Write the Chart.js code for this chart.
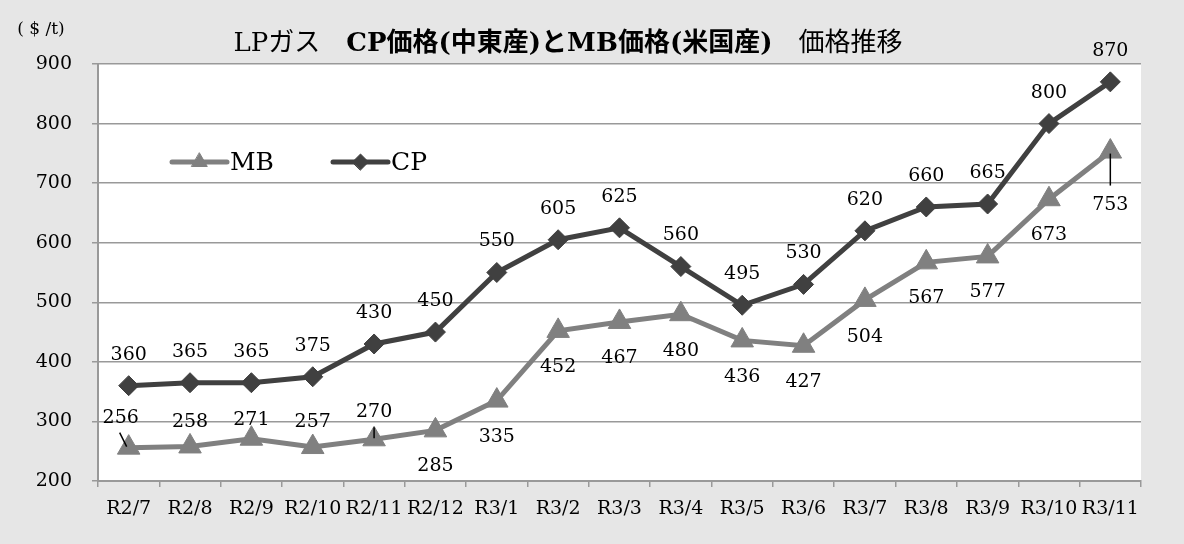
<!DOCTYPE html>
<html>
<head>
<meta charset="utf-8">
<script src="https://cdn.jsdelivr.net/npm/chart.js@4.4.0/dist/chart.umd.min.js"></script>
<style>
html, body { margin: 0; padding: 0; background: #e6e6e6; }
</style>
</head>
<body>
<canvas id="myChart" width="1184" height="544"></canvas>
<script>
// Données
const months = ['R2/7', 'R2/8', 'R2/9', 'R2/10', 'R2/11', 'R2/12', 'R3/1', 'R3/2', 'R3/3',
    'R3/4', 'R3/5', 'R3/6', 'R3/7', 'R3/8', 'R3/9', 'R3/10', 'R3/11'];
const mbPrices = [256, 258, 271, 257, 270, 285, 335, 452, 467, 480, 436, 427, 504, 567, 577, 673, 753];
const cpPrices = [360, 365, 365, 375, 430, 450, 550, 605, 625, 560, 495, 530, 620, 660, 665, 800, 870];
const yMin = 200;
const yMax = 900;
const yStep = 100;

const serif = "'DejaVu Serif', 'Noto Sans CJK JP', serif";
const mbColor = '#808080';
const cpColor = '#404040';

// position des étiquettes [dx, dy] par point
const mbLabelPos = [[-8, -30], [0, -24], [0, -19], [0, -25], [0, -27], [0, 36], [0, 36], [0, 36],
    [0, 36], [0, 37], [0, 37], [0, 36], [0, 37], [0, 36], [0, 36], [0, 36], [0, 53]];
const cpLabelDy = -31;
// traits de rappel [index, x1, y1, x2, y2] relatifs au point
const mbLeaders = [[0, -9, -15, -2, -1], [4, 0, -12, 0, -1], [16, 0, 2, 0, 34]];

// fond gris + zone blanche
const bgPlugin = {
    id: 'bg',
    beforeDraw(chart) {
        const ctx = chart.ctx;
        const a = chart.chartArea;
        ctx.save();
        ctx.fillStyle = '#e6e6e6';
        ctx.fillRect(0, 0, chart.width, chart.height);
        ctx.fillStyle = '#ffffff';
        ctx.fillRect(a.left, a.top, a.right - a.left, a.bottom - a.top);
        ctx.restore();
    }
};

// titre (gras partiel) + unité
const titlePlugin = {
    id: 'titre',
    afterDraw(chart) {
        const ctx = chart.ctx;
        ctx.save();
        ctx.fillStyle = '#000';
        ctx.textBaseline = 'middle';
        ctx.textAlign = 'center';
        ctx.font = '17px ' + serif;
        ctx.fillText('( $ /t)', 41, 30);

        const parts = [
            ['LPガス　', 'normal'],
            ['CP価格(中東産)とMB価格(米国産)', 'bold'],
            ['　価格推移', 'normal']
        ];
        const size = 26;
        let total = 0;
        parts.forEach(function (p) {
            ctx.font = p[1] + ' ' + size + 'px ' + serif;
            total += ctx.measureText(p[0]).width;
        });
        let x = 568 - total / 2;
        ctx.textAlign = 'left';
        parts.forEach(function (p) {
            ctx.font = p[1] + ' ' + size + 'px ' + serif;
            ctx.fillText(p[0], x, 44);
            x += ctx.measureText(p[0]).width;
        });
        ctx.restore();
    }
};

// légende dans le graphique
const legendPlugin = {
    id: 'legende',
    afterDraw(chart) {
        const ctx = chart.ctx;
        const items = [
            { x1: 172, x2: 227, color: mbColor, style: 'triangle', r: 9, text: 'MB' },
            { x1: 333, x2: 388, color: cpColor, style: 'rectRot', r: 8, text: 'CP' }
        ];
        ctx.save();
        items.forEach(function (it) {
            const y = 162;
            ctx.strokeStyle = it.color;
            ctx.lineWidth = 5;
            ctx.lineCap = 'round';
            ctx.beginPath();
            ctx.moveTo(it.x1, y);
            ctx.lineTo(it.x2, y);
            ctx.stroke();
            ctx.fillStyle = it.color;
            ctx.lineWidth = 1;
            Chart.helpers.drawPoint(ctx, { pointStyle: it.style, radius: it.r, rotation: 0, borderWidth: 1 },
                (it.x1 + it.x2) / 2, y);
            ctx.fillStyle = '#000';
            ctx.font = '25px ' + serif;
            ctx.textAlign = 'left';
            ctx.textBaseline = 'middle';
            ctx.fillText(it.text, it.x2 + 3, y + 1);
        });
        ctx.restore();
    }
};

// étiquettes des valeurs
const labelPlugin = {
    id: 'etiquettes',
    afterDatasetsDraw(chart) {
        const ctx = chart.ctx;
        ctx.save();
        ctx.fillStyle = '#000';
        ctx.font = '19px ' + serif;
        ctx.textAlign = 'center';
        ctx.textBaseline = 'middle';

        const mbMeta = chart.getDatasetMeta(0);
        mbMeta.data.forEach(function (pt, i) {
            const pos = mbLabelPos[i];
            ctx.fillText(String(mbPrices[i]), pt.x + pos[0], pt.y + pos[1]);
        });
        const cpMeta = chart.getDatasetMeta(1);
        cpMeta.data.forEach(function (pt, i) {
            ctx.fillText(String(cpPrices[i]), pt.x, pt.y + cpLabelDy);
        });

        ctx.strokeStyle = '#000';
        ctx.lineWidth = 1.5;
        mbLeaders.forEach(function (l) {
            const pt = mbMeta.data[l[0]];
            ctx.beginPath();
            ctx.moveTo(pt.x + l[1], pt.y + l[2]);
            ctx.lineTo(pt.x + l[3], pt.y + l[4]);
            ctx.stroke();
        });
        ctx.restore();
    }
};

// Graphique
const ctx = document.getElementById('myChart').getContext('2d');
const myChart = new Chart(ctx, {
    type: 'line',
    data: {
        labels: months,
        datasets: [
            {
                label: 'MB',
                data: mbPrices,
                borderColor: mbColor,
                backgroundColor: mbColor,
                borderWidth: 5,
                pointStyle: 'triangle',
                pointRadius: 13,
                pointBorderWidth: 1,
                tension: 0
            },
            {
                label: 'CP',
                data: cpPrices,
                borderColor: cpColor,
                backgroundColor: cpColor,
                borderWidth: 5,
                pointStyle: 'rectRot',
                pointRadius: 10,
                pointBorderWidth: 1,
                tension: 0
            }
        ]
    },
    options: {
        responsive: false,
        animation: false,
        layout: {
            padding: { left: 0, right: 43, top: 64, bottom: 0 }
        },
        plugins: {
            legend: { display: false },
            title: { display: false },
            tooltip: { enabled: false }
        },
        scales: {
            x: {
                offset: true,
                grid: {
                    display: true,
                    offset: true,
                    drawOnChartArea: false,
                    drawTicks: true,
                    tickLength: 6,
                    color: '#999999',
                    lineWidth: 1.5
                },
                border: { color: '#999999', width: 2 },
                ticks: {
                    color: '#000',
                    font: { family: serif, size: 19 },
                    padding: 11,
                    maxRotation: 0,
                    autoSkip: false
                },
                afterFit(scale) {
                    scale.height = 63;
                }
            },
            y: {
                min: yMin,
                max: yMax,
                ticks: {
                    stepSize: yStep,
                    color: '#000',
                    font: { family: serif, size: 19 },
                    padding: 20
                },
                grid: {
                    color: '#999999',
                    lineWidth: 1.5,
                    tickLength: 6
                },
                border: { color: '#999999', width: 2 },
                afterFit(scale) {
                    scale.width = 98;
                }
            }
        }
    },
    plugins: [bgPlugin, labelPlugin, legendPlugin, titlePlugin]
});
</script>
</body>
</html>
